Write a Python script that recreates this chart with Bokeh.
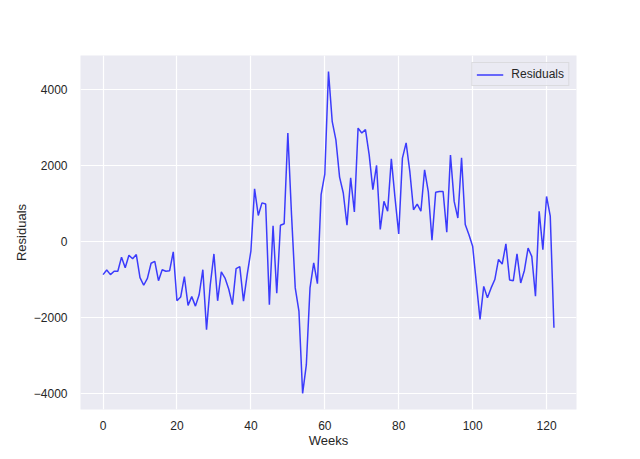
from bokeh.plotting import figure
from bokeh.models import Legend, LegendItem, FixedTicker, Range1d
from bokeh.embed import file_html
from bokeh.resources import INLINE

weeks = list(range(123))
residuals = [
    -870, -750, -870, -780, -780, -410, -690, -360, -450, -340,
    -950, -1150, -970, -570, -520, -1030, -740, -780, -770, -270,
    -1560, -1460, -920, -1680, -1450, -1700, -1400, -740, -2320, -1150,
    -325, -1560, -800, -960, -1250, -1660, -710, -660, -1570, -870,
    -250, 1390, 690, 1020, 990, -1660, 420, -1360, 430, 470,
    2860, 700, -1220, -1830, -4000, -3250, -1220, -560, -1110, 1240,
    1780, 4480, 3170, 2680, 1700, 1280, 430, 1680, 780, 2990,
    2860, 2950, 2290, 1370, 2010, 320, 1060, 800, 2180, 1150,
    200, 2200, 2600, 1850, 840, 990, 800, 1890, 1320, 40,
    1300, 1320, 1320, 250, 2280, 1060, 620, 2210, 450, 180,
    -120, -1090, -2050, -1180, -1480, -1220, -1000, -470, -590, -60,
    -1010, -1030, -320, -1090, -760, -170, -390, -1440, 800, -210,
    1190, 670, -2270,
]
x_ticks = [0, 20, 40, 60, 80, 100, 120]
y_ticks = [-4000, -2000, 0, 2000, 4000]
series_name = "Residuals"
x_label = "Weeks"
y_label = "Residuals"

FONT = "Liberation Sans"
TXT = "#262626"

xmin, xmax = min(weeks), max(weeks)
ymin, ymax = min(residuals), max(residuals)
xm = 0.05 * (xmax - xmin)
ym = 0.05 * (ymax - ymin)

p = figure(
    frame_width=496, frame_height=354,
    min_border_left=80, min_border_right=64, min_border_top=55, min_border_bottom=50,
    output_backend="svg", toolbar_location=None,
    x_range=Range1d(xmin - xm, xmax + xm), y_range=Range1d(ymin - ym, ymax + ym),
    background_fill_color="#EAEAF2", border_fill_color="white",
)
p.outline_line_color = None

r = p.line(weeks, residuals, line_color="blue", line_alpha=0.75, line_width=1.5)

for ax in (p.xaxis[0], p.yaxis[0]):
    ax.axis_line_color = None
    ax.major_tick_line_color = None
    ax.minor_tick_line_color = None
    ax.major_label_text_font = FONT
    ax.major_label_text_font_size = "12px"
    ax.major_label_text_color = TXT
    ax.axis_label_text_font = FONT
    ax.axis_label_text_font_size = "13px"
    ax.axis_label_text_font_style = "normal"
    ax.axis_label_text_color = TXT

p.xaxis.ticker = FixedTicker(ticks=x_ticks)
p.yaxis.ticker = FixedTicker(ticks=y_ticks)
p.yaxis.major_label_overrides = {t: ("\u2212" + str(-t) if t < 0 else str(t)) for t in y_ticks}
p.xaxis.major_label_standoff = 5
p.yaxis.major_label_standoff = 7
p.xaxis.axis_label = x_label
p.yaxis.axis_label = y_label
p.xaxis.axis_label_standoff = 0
p.yaxis.axis_label_standoff = 2

p.xgrid.ticker = FixedTicker(ticks=x_ticks)
p.ygrid.ticker = FixedTicker(ticks=y_ticks)
p.grid.grid_line_color = "white"
p.grid.grid_line_width = 1.2

legend = Legend(items=[LegendItem(label=series_name, renderers=[r])], location="top_right")
legend.margin = 7
legend.padding = 4
legend.spacing = 0
legend.glyph_width = 27
legend.glyph_height = 13
legend.label_height = 13
legend.label_standoff = 8
legend.label_text_font = FONT
legend.label_text_font_size = "12px"
legend.label_text_color = TXT
legend.background_fill_color = "#EAEAF2"
legend.background_fill_alpha = 0.8
legend.border_line_color = "#CCCCCC"
legend.border_line_width = 1
p.add_layout(legend, "center")

open("out.html", "w").write(file_html(p, INLINE))
